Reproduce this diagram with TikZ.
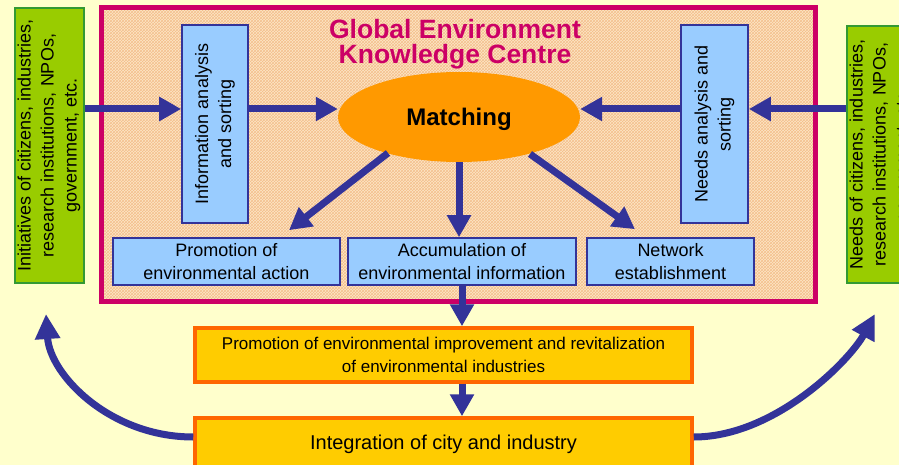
\documentclass[tikz,border=0pt]{standalone}
\usepackage{fontspec}
\setmainfont{Liberation Sans}
\usepackage{graphicx}
\usetikzlibrary{arrows.meta,shapes.geometric,patterns,calc}
\definecolor{bgy}{HTML}{FFFFCC}
\definecolor{grn}{HTML}{99CC00}
\definecolor{grnd}{HTML}{339933}
\definecolor{pnk}{HTML}{CC0066}
\definecolor{peach}{HTML}{FDE6C6}
\definecolor{peachd}{HTML}{F4BF8C}
\definecolor{lblue}{HTML}{99CCFF}
\definecolor{dblue}{HTML}{333399}
\definecolor{orng}{HTML}{FF9900}
\definecolor{yel}{HTML}{FFCC00}
\definecolor{ored}{HTML}{FF6600}
\newcommand{\vtext}[1]{\rotatebox{90}{\begin{tabular}{@{}c@{}}#1\end{tabular}}}
\begin{document}
\begin{tikzpicture}[x=1pt,y=-1pt,
  greenbox/.style={draw=grnd,line width=2pt,fill=grn,inner sep=0pt,font=\fontsize{18}{23}\selectfont},
  bluebox/.style={draw=dblue,line width=1.6pt,fill=lblue,inner sep=0pt,align=center,font=\fontsize{18}{23}\selectfont},
  orangebox/.style={draw=ored,line width=3.5pt,fill=yel,inner sep=0pt,align=center},
  bigarrow/.style={draw=dblue,line width=7pt,-{Triangle[width=23pt,length=22pt]}},
  curvearrow/.style={draw=dblue,line width=7pt,-{Triangle[width=24pt,length=25pt]}},
]
\clip (0,0) rectangle (899,465);
\fill[bgy] (0,0) rectangle (899,465);

% green side boxes
\node[greenbox, minimum width=68pt, minimum height=275pt] (lg) at (49,145.5)
  {\vtext{Initiatives of citizens, industries,\\research institutions, NPOs,\\government, etc.}};
\node[greenbox, minimum width=68pt, minimum height=257pt] (rg) at (881,154.5)
  {\vtext{Needs of citizens, industries,\\research institutions, NPOs,\\government, etc.}};

% centre
\node[draw=pnk, line width=5pt, pattern=crosshatch, pattern color=peachd, preaction={fill=peach},
  minimum width=714pt, minimum height=293pt, inner sep=0pt] (kc) at (458,154.5) {};
\node[text=pnk, font=\bfseries\fontsize{26.5}{25}\selectfont, align=center, inner sep=0pt] (title) at (455,44)
  {Global Environment\\Knowledge Centre};

\node[bluebox, minimum width=66pt, minimum height=198pt] (info) at (215,124)
  {\vtext{Information analysis\\and sorting}};
\node[bluebox, minimum width=67pt, minimum height=198pt] (needs) at (714.5,124)
  {\vtext{Needs analysis and\\sorting}};

\node[ellipse, fill=orng, minimum width=242pt, minimum height=90pt, inner sep=0pt,
  font=\bfseries\fontsize{24}{24}\selectfont, text depth=0pt] (match) at (459,117) {Matching};

\node[bluebox, minimum width=227pt, minimum height=47pt] (pa) at (226.5,261.5)
  {Promotion of\\environmental action};
\node[bluebox, minimum width=228pt, minimum height=47pt] (acc) at (462,261.5)
  {Accumulation of\\environmental information};
\node[bluebox, minimum width=167pt, minimum height=47pt] (net) at (670.5,261.5)
  {Network\\establishment};

\node[orangebox, minimum width=497pt, minimum height=54pt, font=\fontsize{17}{23}\selectfont] (pe) at (443.5,355)
  {Promotion of environmental improvement and revitalization\\of environmental industries};
\node[orangebox, minimum width=497pt, minimum height=52pt, font=\fontsize{20}{24}\selectfont] (ic) at (443.5,444)
  {Integration of city and industry};

% arrows
\coordinate (ay) at (0,109);
\coordinate (cy) at (0,437);
\draw[bigarrow] (lg.east |- ay) -- (info.west |- ay);
\draw[bigarrow] (info.east |- ay) -- (match.west |- ay);
\draw[bigarrow] (rg.west |- ay) -- (needs.east |- ay);
\draw[bigarrow] (needs.west |- ay) -- (match.east |- ay);

\draw[bigarrow] ($(match.center)+(-71,36)$) -- ($(pa.north)+(62.5,-7)$);
\draw[bigarrow] (match.south) -- (match.south |- acc.north);
\draw[bigarrow] ($(match.center)+(71,37)$) -- ($(net.north)+(-35.5,-8)$);

\draw[bigarrow] (acc.south) -- (acc.south |- pe.north);
\draw[bigarrow] (pe.south -| acc.south) -- (ic.north -| acc.south);

\draw[curvearrow] (ic.west |- cy) .. controls (110,437) and (50,375) .. ($(lg.south)+(-3,30)$);
\draw[curvearrow] (ic.east |- cy) .. controls (775,437) and (850,360) .. ($(rg.south)+(-6,30)$);
\end{tikzpicture}
\end{document}
